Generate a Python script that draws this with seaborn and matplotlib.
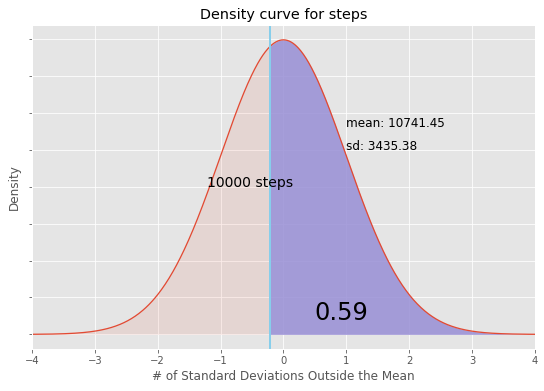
import matplotlib
matplotlib.use("Agg")
import matplotlib.pyplot as plt
import numpy as np
import pandas as pd
import seaborn as sns

# values shown on the chart
mean_steps = 10741.45
sd_steps = 3435.38
goal_steps = 10000
share_above = 0.59
z_range = [-4, 4]

plt.style.use("ggplot")

z_goal = (goal_steps - mean_steps) / sd_steps
z = np.linspace(z_range[0], z_range[1], 801)
density = np.exp(-0.5 * z ** 2) / np.sqrt(2 * np.pi)
df = pd.DataFrame({"z": z, "density": density})

fig = plt.figure(figsize=(544 / 72, 391 / 72), dpi=72)
ax = fig.add_axes([0.059, 0.107, 0.924, 0.829])

sns.lineplot(data=df, x="z", y="density", color="#E24A33", linewidth=1.3, ax=ax)
left = df[df["z"] <= z_goal]
right = df[df["z"] >= z_goal]
ax.fill_between(left["z"], left["density"], color="#E24A33", alpha=0.1, linewidth=0)
ax.fill_between(right["z"], right["density"], color="#988ED5", alpha=0.85, linewidth=0)
ax.axvline(z_goal, color="skyblue", linewidth=2)

ax.text(-1.22, 0.2, f"{goal_steps} steps", fontsize=14, color="black")
ax.text(1.0, 0.285, f"mean: {mean_steps:.2f}", fontsize=12, color="black", va="center")
ax.text(1.0, 0.254, f"sd: {sd_steps:.2f}", fontsize=12, color="black", va="center")
ax.text(0.5, 0.02, f"{share_above:.2f}", fontsize=24, color="black")

ax.set_xlim(z_range)
ax.set_ylim(-0.02, 0.419)
ax.set_yticks(np.arange(0, 0.45, 0.05))
ax.set_yticklabels([])
ax.set_title("Density curve for steps")
ax.set_xlabel("# of Standard Deviations Outside the Mean")
ax.set_ylabel("Density")

fig.savefig("out.png", dpi=72)
